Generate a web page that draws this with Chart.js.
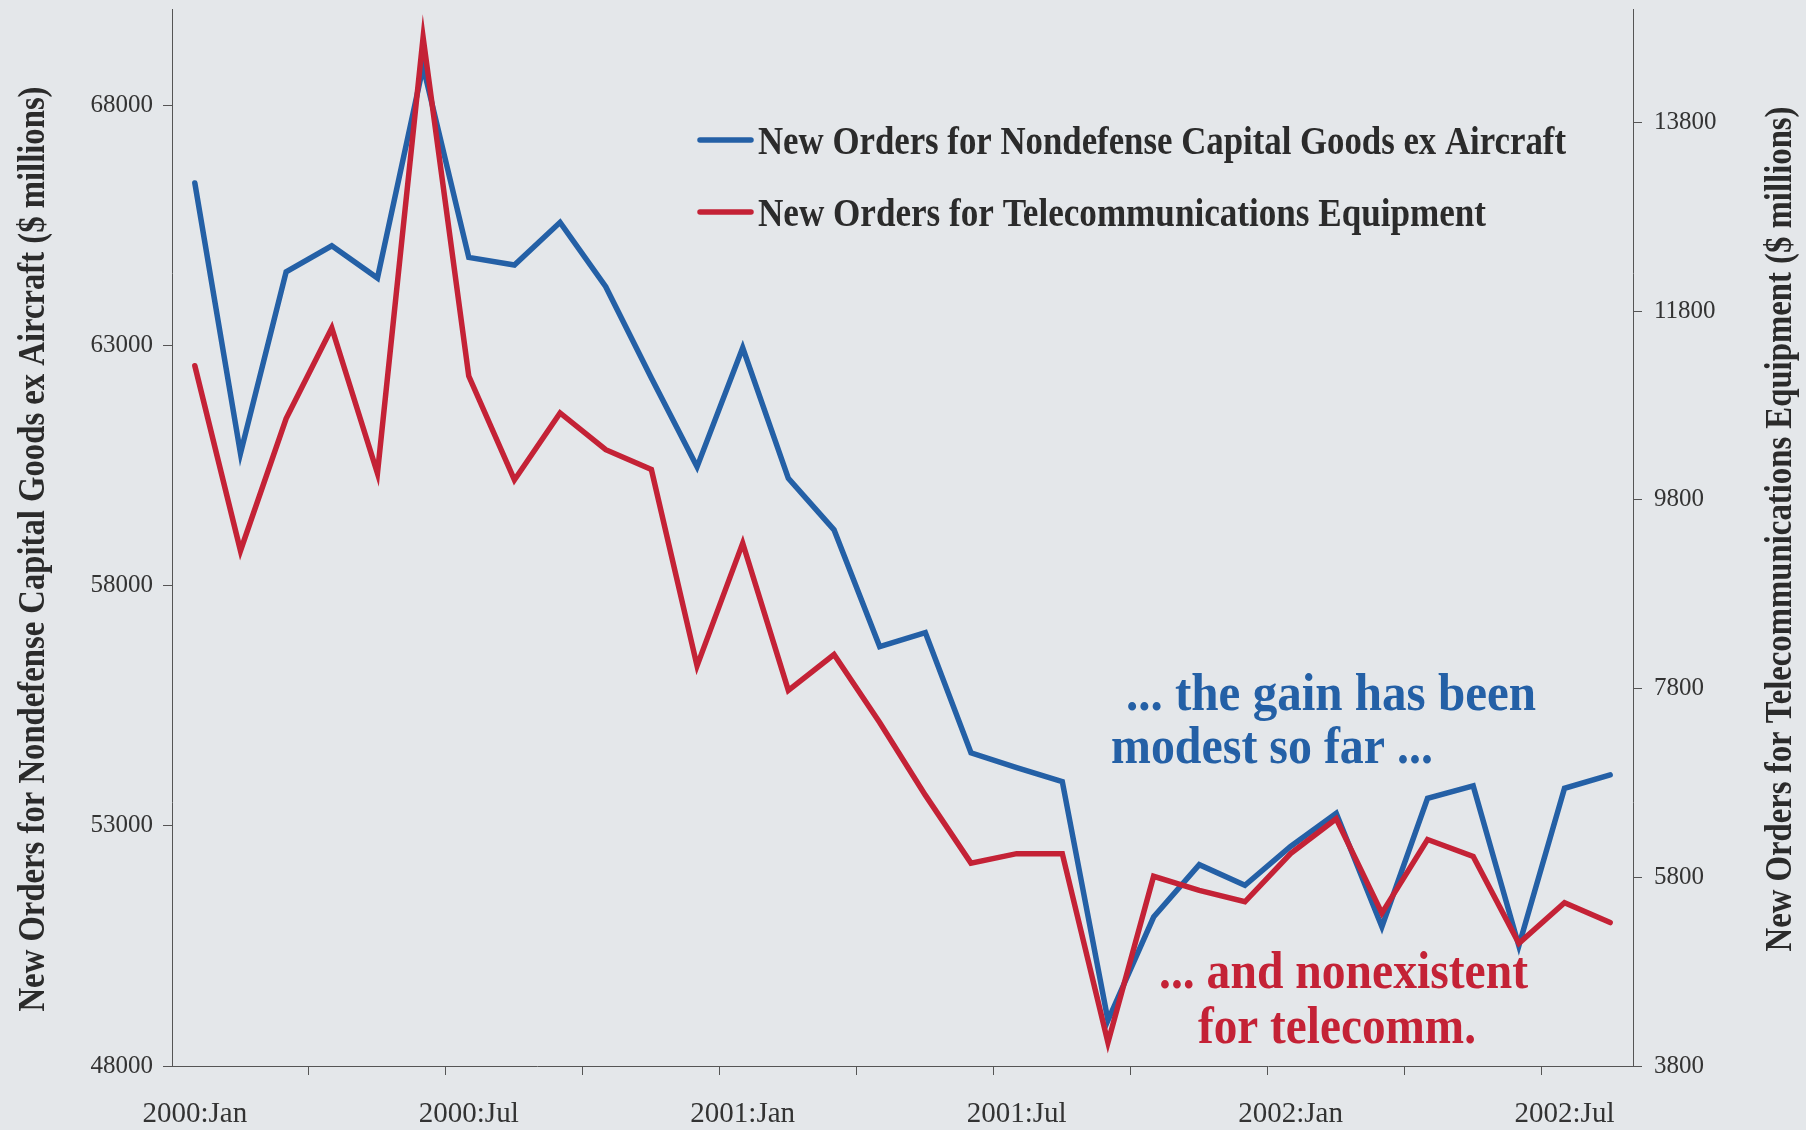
<!DOCTYPE html>
<html>
<head>
<meta charset="utf-8">
<title>New Orders: Capital Goods vs Telecom Equipment</title>
<script src="https://cdn.jsdelivr.net/npm/chart.js@4.4.1/dist/chart.umd.min.js"></script>
<style>
  html, body { margin: 0; padding: 0; background: #e4e7ea; }
  #wrap { width: 1806px; height: 1130px; }
</style>
</head>
<body>
<div id="wrap"><canvas id="ordersChart" width="1806" height="1130"></canvas></div>
<script>
// Monthly observations, 2000:Jan - 2002:Aug
const months = [
    '2000:Jan', '2000:Feb', '2000:Mar', '2000:Apr', '2000:May', '2000:Jun',
    '2000:Jul', '2000:Aug', '2000:Sep', '2000:Oct', '2000:Nov', '2000:Dec',
    '2001:Jan', '2001:Feb', '2001:Mar', '2001:Apr', '2001:May', '2001:Jun',
    '2001:Jul', '2001:Aug', '2001:Sep', '2001:Oct', '2001:Nov', '2001:Dec',
    '2002:Jan', '2002:Feb', '2002:Mar', '2002:Apr', '2002:May', '2002:Jun',
    '2002:Jul', '2002:Aug'
];

// Nondefense capital goods ex aircraft ($ millions, left axis)
const capGoods = [
    66380, 60750, 64530, 65070, 64400, 68800, 64830, 64670, 65560, 64220, 62320, 60470,
    62950, 60230, 59160, 56730, 57020, 54520, 54210, 53920, 48950, 51100, 52190, 51760,
    52570, 53260, 50900, 53570, 53830, 50500, 53780, 54060
];

// Telecommunications equipment ($ millions, right axis)
const telecom = [
    11220, 9260, 10660, 11620, 10080, 14700, 11110, 10010, 10720, 10330, 10120, 8040,
    9340, 7780, 8160, 7440, 6670, 5950, 6050, 6050, 4050, 5810, 5660, 5540,
    6050, 6420, 5420, 6200, 6020, 5100, 5530, 5320
];

const leftTicks = [48000, 53000, 58000, 63000, 68000];
const rightTicks = [3800, 5800, 7800, 9800, 11800, 13800];

const labelEvery = 6;   // a date label every half year
const markEvery = 3;    // a tick mark every quarter

const BLUE = '#2460a6';
const RED = '#c42236';
const INK = '#2b2b2b';
const AXIS = '#555555';
const SERIF = "'Liberation Serif', 'Times New Roman', serif";

// draw a line of text squeezed (or stretched) horizontally to a given width
function fitText(ctx, text, x, y, width, size, color, align, angle) {
    ctx.save();
    ctx.font = 'bold ' + size + 'px ' + SERIF;
    ctx.fillStyle = color;
    ctx.textAlign = align;
    ctx.textBaseline = 'alphabetic';
    const natural = ctx.measureText(text).width;
    ctx.translate(x, y);
    if (angle) ctx.rotate(angle);
    ctx.scale(width / natural, 1);
    ctx.fillText(text, 0, 0);
    ctx.restore();
}

// keep the value axes from reserving room for half a label above and below
function noLabelPadding(s) {
    s.paddingTop = 0;
    s.paddingBottom = 0;
}

const chartText = {
    id: 'chartText',
    afterDraw(chart) {
        const ctx = chart.ctx;

        // legend
        const rows = [
            { color: BLUE, y: 140, text: 'New Orders for Nondefense Capital Goods ex Aircraft', w: 808 },
            { color: RED, y: 212, text: 'New Orders for Telecommunications Equipment', w: 728 }
        ];
        rows.forEach(r => {
            ctx.save();
            ctx.strokeStyle = r.color;
            ctx.lineWidth = 5.5;
            ctx.lineCap = 'round';
            ctx.beginPath();
            ctx.moveTo(700, r.y);
            ctx.lineTo(751, r.y);
            ctx.stroke();
            ctx.restore();
            fitText(ctx, r.text, 758, r.y + 14, r.w, 40, INK, 'left');
        });

        // commentary
        fitText(ctx, '... the gain has been', 1126, 710, 410, 52, BLUE, 'left');
        fitText(ctx, 'modest so far ...', 1111, 763, 322, 52, BLUE, 'left');
        fitText(ctx, '... and nonexistent', 1159, 988, 369, 52, RED, 'left');
        fitText(ctx, 'for telecomm.', 1198, 1043, 278, 52, RED, 'left');

        // axis titles, both reading bottom to top
        fitText(ctx, 'New Orders for Nondefense Capital Goods ex Aircraft ($ millions)',
            44, 549, 925, 38, INK, 'center', -Math.PI / 2);
        fitText(ctx, 'New Orders for Telecommunications Equipment ($ millions)',
            1791, 529, 845, 38, INK, 'center', -Math.PI / 2);
    }
};

const ctx = document.getElementById('ordersChart').getContext('2d');

new Chart(ctx, {
    type: 'line',
    data: {
        labels: months,
        datasets: [
            {
                label: 'New Orders for Nondefense Capital Goods ex Aircraft',
                data: capGoods,
                yAxisID: 'y',
                borderColor: BLUE,
                borderWidth: 5.5,
                borderJoinStyle: 'miter',
                borderCapStyle: 'round',
                pointRadius: 0,
                tension: 0,
                order: 2
            },
            {
                label: 'New Orders for Telecommunications Equipment',
                data: telecom,
                yAxisID: 'y1',
                borderColor: RED,
                borderWidth: 5.5,
                borderJoinStyle: 'miter',
                borderCapStyle: 'round',
                pointRadius: 0,
                tension: 0,
                order: 1
            }
        ]
    },
    options: {
        responsive: false,
        animation: false,
        events: [],
        layout: { padding: { top: 9, left: 0, right: 0, bottom: 0 } },
        plugins: {
            legend: { display: false },
            tooltip: { enabled: false }
        },
        scales: {
            x: {
                type: 'category',
                offset: true,
                afterFit: (s) => { s.height = 64; s.paddingLeft = 0; s.paddingRight = 0; },
                border: { display: true, color: AXIS, width: 1 },
                grid: {
                    offset: true,
                    drawOnChartArea: false,
                    tickLength: 9,
                    tickWidth: 1,
                    tickColor: (c) => (c.index > 0 && c.index % markEvery === 0) ? AXIS : 'rgba(0,0,0,0)'
                },
                ticks: {
                    autoSkip: false,
                    maxRotation: 0,
                    minRotation: 0,
                    padding: 22,
                    color: '#333',
                    font: { family: SERIF, size: 29 },
                    callback: function (value, index) {
                        return index % labelEvery === 0 ? this.getLabelForValue(value) : '';
                    }
                }
            },
            y: {
                position: 'left',
                min: 48000,
                max: 70000,
                afterFit: (s) => { s.width = 172; noLabelPadding(s); },
                afterBuildTicks: (s) => { s.ticks = leftTicks.map(v => ({ value: v })); },
                border: { display: true, color: AXIS, width: 1 },
                grid: { drawOnChartArea: false, tickLength: 9, tickColor: AXIS, tickWidth: 1 },
                ticks: {
                    padding: 10,
                    color: '#333',
                    font: { family: SERIF, size: 25 },
                    callback: (v) => String(v)
                }
            },
            y1: {
                position: 'right',
                min: 3800,
                max: 15000,
                afterFit: (s) => { s.width = 173; noLabelPadding(s); },
                afterBuildTicks: (s) => { s.ticks = rightTicks.map(v => ({ value: v })); },
                border: { display: true, color: AXIS, width: 1 },
                grid: { drawOnChartArea: false, tickLength: 9, tickColor: AXIS, tickWidth: 1 },
                ticks: {
                    padding: 12,
                    color: '#333',
                    font: { family: SERIF, size: 25 },
                    callback: (v) => String(v)
                }
            }
        }
    },
    plugins: [chartText]
});
</script>
</body>
</html>
